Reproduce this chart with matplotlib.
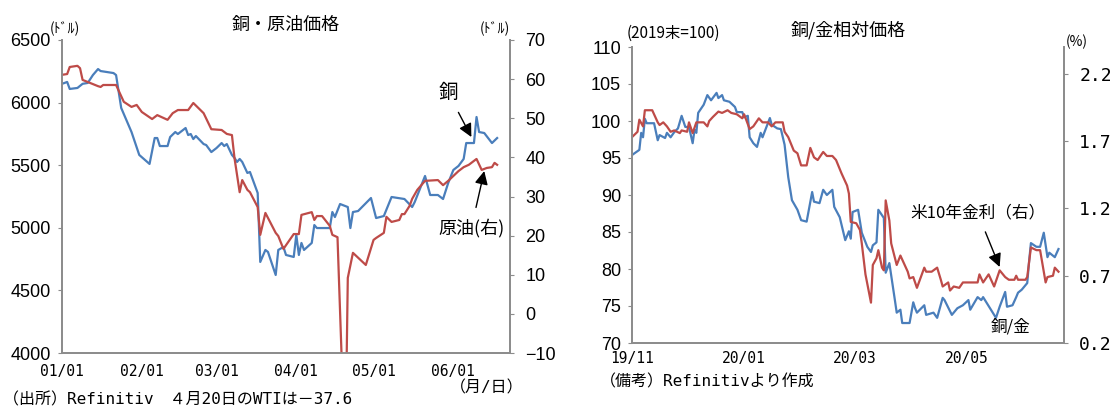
import matplotlib
matplotlib.use('Agg')
import matplotlib.pyplot as plt
import matplotlib.dates as mdates
import pandas as pd

plt.rcParams['font.family'] = ['Noto Sans CJK JP', 'DejaVu Sans']

# 左: 銅・原油価格 (2020)
copper_dates = ['01-01', '01-02', '01-03', '01-04', '01-07', '01-09', '01-11', '01-13', '01-15', '01-16',
                '01-21', '01-22', '01-24', '01-28', '01-31', '02-04', '02-06', '02-07', '02-08', '02-11',
                '02-12', '02-14', '02-15', '02-18', '02-19', '02-20', '02-21', '02-22', '02-25', '02-26',
                '02-28', '03-01', '03-03', '03-04', '03-05', '03-07', '03-08', '03-09', '03-10', '03-11',
                '03-13', '03-14', '03-17', '03-18', '03-20', '03-21', '03-24', '03-25', '03-27', '03-28',
                '03-31', '04-01', '04-02', '04-03', '04-04', '04-07', '04-08', '04-09', '04-14', '04-15',
                '04-16', '04-18', '04-21', '04-22', '04-23', '04-25', '04-30', '05-02', '05-05', '05-08',
                '05-13', '05-16', '05-17', '05-21', '05-23', '05-26', '05-28', '05-30', '06-01', '06-03',
                '06-05', '06-06', '06-09', '06-10', '06-11', '06-13', '06-16', '06-18']
copper = [6150, 6157, 6165, 6109, 6117, 6150, 6157, 6220, 6268, 6252,
          6236, 6220, 5957, 5765, 5582, 5510, 5717, 5717, 5653, 5653,
          5725, 5765, 5749, 5797, 5741, 5749, 5709, 5733, 5669, 5661,
          5605, 5637, 5677, 5653, 5669, 5582, 5558, 5526, 5550, 5526,
          5438, 5446, 5278, 4727, 4823, 4807, 4623, 4823, 4847, 4783,
          4767, 4943, 4783, 4879, 4823, 4879, 5022, 4998, 4998, 5126,
          5086, 5190, 5166, 4998, 5126, 5134, 5238, 5078, 5094, 5246,
          5230, 5166, 5206, 5414, 5262, 5262, 5230, 5358, 5462, 5494,
          5550, 5677, 5677, 5885, 5765, 5757, 5677, 5717]

oil_dates = ['01-01', '01-03', '01-04', '01-07', '01-08', '01-09', '01-12', '01-15', '01-16', '01-17',
             '01-22', '01-25', '01-28', '01-30', '02-01', '02-05', '02-07', '02-11', '02-13', '02-15',
             '02-19', '02-21', '02-25', '02-28', '03-03', '03-05', '03-07', '03-08', '03-10', '03-11',
             '03-13', '03-14', '03-17', '03-18', '03-20', '03-24', '03-25', '03-27', '03-31', '04-02',
             '04-03', '04-07', '04-08', '04-09', '04-11', '04-14', '04-15', '04-17', '04-20', '04-21',
             '04-23', '04-28', '05-01', '05-02', '05-05', '05-06', '05-08', '05-11', '05-12', '05-13',
             '05-15', '05-16', '05-18', '05-21', '05-26', '05-28', '05-30', '06-03', '06-05', '06-07',
             '06-10', '06-12', '06-14', '06-16', '06-17', '06-18']
oil = [61.1, 61.3, 63.1, 63.4, 62.8, 59.8, 59.0, 58.2, 58.0, 58.5,
       58.5, 54.2, 52.9, 53.4, 51.6, 49.8, 50.8, 49.6, 51.3, 52.1,
       52.1, 53.9, 51.3, 47.2, 47.0, 46.0, 45.7, 39.8, 31.1, 34.2,
       31.7, 31.1, 27.3, 20.2, 25.8, 20.7, 19.9, 16.6, 20.4, 20.4,
       25.3, 26.0, 24.0, 25.0, 25.0, 22.5, 20.2, 19.6, -37.6, 9.2,
       15.6, 12.5, 18.9, 19.4, 20.7, 24.8, 23.5, 24.0, 25.5, 25.5,
       27.6, 29.4, 31.7, 34.0, 34.2, 32.9, 34.0, 36.5, 37.5, 38.1,
       39.6, 36.8, 37.3, 37.5, 38.6, 38.1]

# 右: 銅/金相対価格, 米10年金利
ratio_dates = ['2019-11-01', '2019-11-05', '2019-11-06', '2019-11-07', '2019-11-08', '2019-11-09',
               '2019-11-13', '2019-11-15', '2019-11-16', '2019-11-19', '2019-11-20', '2019-11-22',
               '2019-11-24', '2019-11-26', '2019-11-28', '2019-11-30', '2019-12-02', '2019-12-04',
               '2019-12-05', '2019-12-06', '2019-12-07', '2019-12-10', '2019-12-12', '2019-12-14',
               '2019-12-17', '2019-12-18', '2019-12-20', '2019-12-21', '2019-12-24', '2019-12-27',
               '2019-12-28', '2019-12-31', '2020-01-01', '2020-01-03', '2020-01-04', '2020-01-06',
               '2020-01-08', '2020-01-10', '2020-01-11', '2020-01-15', '2020-01-16', '2020-01-19',
               '2020-01-21', '2020-01-23', '2020-01-25', '2020-01-27', '2020-01-30', '2020-02-01',
               '2020-02-04', '2020-02-07', '2020-02-08', '2020-02-11', '2020-02-13', '2020-02-15',
               '2020-02-18', '2020-02-19', '2020-02-22', '2020-02-25', '2020-02-27', '2020-02-28',
               '2020-02-29', '2020-03-03', '2020-03-05', '2020-03-08', '2020-03-10', '2020-03-11',
               '2020-03-13', '2020-03-14', '2020-03-17', '2020-03-18', '2020-03-20', '2020-03-23',
               '2020-03-24', '2020-03-26', '2020-03-27', '2020-03-31', '2020-04-02', '2020-04-03',
               '2020-04-04', '2020-04-08', '2020-04-09', '2020-04-13', '2020-04-15', '2020-04-18',
               '2020-04-19', '2020-04-23', '2020-04-26', '2020-04-29', '2020-05-02', '2020-05-03',
               '2020-05-07', '2020-05-09', '2020-05-10', '2020-05-17', '2020-05-19', '2020-05-22',
               '2020-05-23', '2020-05-26', '2020-05-28', '2020-05-29', '2020-05-31', '2020-06-03',
               '2020-06-04', '2020-06-05', '2020-06-08', '2020-06-10', '2020-06-12', '2020-06-14',
               '2020-06-15', '2020-06-18', '2020-06-20']
ratio = [95.4, 96.1, 98.4, 97.8, 100.3, 99.7,
         99.7, 97.4, 98.1, 97.7, 98.4, 97.8,
         98.5, 99.0, 100.7, 99.2, 99.2, 97.0,
         98.8, 98.4, 101.1, 102.2, 103.5, 102.8,
         103.8, 103.1, 103.5, 102.8, 102.6, 101.9,
         101.2, 101.2, 100.5, 100.7, 97.8, 97.0,
         96.5, 98.4, 97.8, 100.4, 99.5, 99.0,
         98.9, 96.8, 92.4, 89.3, 88.0, 86.6,
         86.4, 90.4, 89.1, 88.9, 90.7, 90.0,
         90.7, 88.4, 87.0, 83.9, 85.1, 84.1,
         87.7, 88.0, 84.9, 83.0, 82.3, 83.2,
         83.6, 88.0, 86.9, 79.5, 80.8, 75.8,
         74.1, 74.5, 72.7, 72.7, 75.5, 74.7,
         74.1, 75.1, 73.8, 74.1, 73.4, 76.1,
         75.8, 73.8, 74.7, 75.1, 75.8, 74.5,
         76.2, 75.8, 76.2, 73.4, 74.9, 76.9,
         74.9, 75.1, 76.2, 76.8, 77.2, 78.1,
         81.0, 83.5, 83.0, 83.0, 84.9, 81.6,
         82.2, 81.6, 82.7]

yield_dates = ['2019-11-01', '2019-11-04', '2019-11-05', '2019-11-07', '2019-11-08', '2019-11-12',
               '2019-11-13', '2019-11-15', '2019-11-16', '2019-11-18', '2019-11-20', '2019-11-22',
               '2019-11-24', '2019-11-27', '2019-11-28', '2019-12-01', '2019-12-02', '2019-12-04',
               '2019-12-06', '2019-12-10', '2019-12-12', '2019-12-13', '2019-12-15', '2019-12-18',
               '2019-12-20', '2019-12-23', '2019-12-25', '2019-12-28', '2019-12-31', '2020-01-01',
               '2020-01-04', '2020-01-06', '2020-01-09', '2020-01-11', '2020-01-14', '2020-01-16',
               '2020-01-18', '2020-01-22', '2020-01-23', '2020-01-25', '2020-01-28', '2020-01-30',
               '2020-02-01', '2020-02-04', '2020-02-06', '2020-02-08', '2020-02-10', '2020-02-13',
               '2020-02-15', '2020-02-18', '2020-02-20', '2020-02-23', '2020-02-26', '2020-02-27',
               '2020-02-28', '2020-03-02', '2020-03-04', '2020-03-05', '2020-03-07', '2020-03-10',
               '2020-03-11', '2020-03-13', '2020-03-14', '2020-03-16', '2020-03-17', '2020-03-18',
               '2020-03-20', '2020-03-21', '2020-03-24', '2020-03-26', '2020-03-30', '2020-03-31',
               '2020-04-02', '2020-04-04', '2020-04-08', '2020-04-09', '2020-04-12', '2020-04-15',
               '2020-04-17', '2020-04-18', '2020-04-21', '2020-04-22', '2020-04-24', '2020-04-27',
               '2020-04-29', '2020-05-03', '2020-05-07', '2020-05-08', '2020-05-10', '2020-05-13',
               '2020-05-16', '2020-05-19', '2020-05-22', '2020-05-24', '2020-05-27', '2020-05-28',
               '2020-05-29', '2020-06-02', '2020-06-03', '2020-06-05', '2020-06-08', '2020-06-10',
               '2020-06-13', '2020-06-14', '2020-06-17', '2020-06-18', '2020-06-20']
yield10 = [1.73, 1.77, 1.86, 1.81, 1.93, 1.93,
           1.90, 1.84, 1.82, 1.84, 1.81, 1.77,
           1.78, 1.76, 1.78, 1.77, 1.84, 1.76,
           1.84, 1.84, 1.81, 1.85, 1.88, 1.92,
           1.91, 1.93, 1.91, 1.90, 1.87, 1.90,
           1.79, 1.81, 1.87, 1.84, 1.84, 1.81,
           1.84, 1.84, 1.77, 1.73, 1.63, 1.61,
           1.52, 1.52, 1.65, 1.58, 1.56, 1.62,
           1.59, 1.59, 1.56, 1.46, 1.37, 1.31,
           1.10, 1.09, 1.04, 0.94, 0.71, 0.50,
           0.78, 0.83, 0.89, 0.76, 0.74, 1.26,
           1.11, 0.94, 0.78, 0.85, 0.73, 0.68,
           0.69, 0.61, 0.76, 0.73, 0.73, 0.76,
           0.67, 0.62, 0.65, 0.59, 0.62, 0.61,
           0.65, 0.65, 0.65, 0.71, 0.65, 0.71,
           0.62, 0.74, 0.69, 0.67, 0.67, 0.70,
           0.67, 0.67, 0.69, 0.91, 0.89, 0.89,
           0.65, 0.69, 0.70, 0.76, 0.73]

blue = '#4A7EBB'
red = '#BE4B48'
spine_c = '#8C8C8C'
mono_jp = ['DejaVu Sans Mono', 'Noto Sans CJK JP']
num_font = ['Liberation Sans', 'DejaVu Sans']
arrow = dict(arrowstyle='-|>', color='black', lw=1, mutation_scale=20, shrinkB=0)

fig = plt.figure(figsize=(11.1, 4.07), dpi=100)


def style(ax, ax2):
    for a in (ax, ax2):
        a.spines['top'].set_visible(False)
        for s in ('left', 'right', 'bottom'):
            a.spines[s].set_color(spine_c)
            a.spines[s].set_linewidth(1.3)
    ax.tick_params(axis='x', length=0, pad=8)
    ax.tick_params(axis='y', length=3, color=spine_c, pad=5)
    ax2.tick_params(axis='y', length=3, color=spine_c, pad=8)
    for lab in ax.get_xticklabels():
        lab.set_family('DejaVu Sans Mono')
        lab.set_fontsize(10.5)


# ---- 左のグラフ
ax1 = fig.add_axes([62 / 1110, 1 - 353 / 407, 448 / 1110, 313 / 407])
ax1b = ax1.twinx()
cd = pd.to_datetime(['2020-' + d for d in copper_dates])
od = pd.to_datetime(['2020-' + d for d in oil_dates])
ax1.plot(cd, copper, color=blue, lw=1.6)
ax1b.plot(od, oil, color=red, lw=1.6)
ax1.set_ylim(4000, 6500)
ax1.set_yticks(range(4000, 6501, 500))
ax1b.set_ylim(-10, 70)
ax1b.set_yticks(range(-10, 71, 10))
ax1.set_xlim(pd.Timestamp('2020-01-01'), pd.Timestamp('2020-06-23'))
ax1.xaxis.set_major_locator(mdates.MonthLocator())
ax1.xaxis.set_major_formatter(mdates.DateFormatter('%m/%d'))
style(ax1, ax1b)
for lab in ax1.get_yticklabels() + ax1b.get_yticklabels():
    lab.set_family(num_font)
    lab.set_fontsize(13)

ax1.set_title('銅・原油価格', fontsize=13, pad=7)
fig.text(65 / 1110, 1 - 29 / 407, '(ﾄﾞﾙ)', fontsize=10, ha='center', va='center')
fig.text(495 / 1110, 1 - 29 / 407, '(ﾄﾞﾙ)', fontsize=10, ha='center', va='center')

ax1.annotate('銅', xy=(pd.Timestamp('2020-06-08'), 5725), xytext=(pd.Timestamp('2020-05-30'), 6077),
             fontsize=14, ha='center', va='center', arrowprops=dict(arrow, shrinkA=5))
ax1b.annotate('原油(右)', xy=(pd.Timestamp('2020-06-13'), 36.5), xytext=(pd.Timestamp('2020-06-08'), 22),
              fontsize=13, ha='center', va='center', arrowprops=dict(arrow, shrinkA=6))

fig.text(487 / 1110, 1 - 388 / 407, '（月/日）', fontsize=11.5, ha='center', va='center', family=mono_jp)
fig.text(3 / 1110, 1 - 400 / 407, '（出所）Refinitiv　４月20日のWTIは－37.6', fontsize=11.5,
         ha='left', va='center', family=mono_jp)

# ---- 右のグラフ
ax2 = fig.add_axes([632 / 1110, 1 - 343 / 407, 432 / 1110, 296 / 407])
ax2b = ax2.twinx()
ax2.plot(pd.to_datetime(ratio_dates), ratio, color=blue, lw=1.6)
ax2b.plot(pd.to_datetime(yield_dates), yield10, color=red, lw=1.6)
ax2.set_ylim(70, 110)
ax2.set_yticks(range(70, 111, 5))
ax2b.set_ylim(0.2, 2.4)
ax2b.set_yticks([0.2, 0.7, 1.2, 1.7, 2.2])
ax2.set_xlim(pd.Timestamp('2019-11-01'), pd.Timestamp('2020-06-23'))
ax2.xaxis.set_major_locator(mdates.MonthLocator(bymonth=[1, 3, 5, 7, 9, 11]))
ax2.xaxis.set_major_formatter(mdates.DateFormatter('%y/%m'))
style(ax2, ax2b)
ax2.tick_params(axis='x', pad=6)
for lab in ax2.get_yticklabels():
    lab.set_family(num_font)
    lab.set_fontsize(13)
for lab in ax2b.get_yticklabels():
    lab.set_family('DejaVu Sans Mono')
    lab.set_fontsize(13)

ax2.set_title('銅/金相対価格', fontsize=13, pad=8)
fig.text(627 / 1110, 1 - 33 / 407, '(2019末=100)', fontsize=11, ha='left', va='center')
fig.text(1077 / 1110, 1 - 42 / 407, '(%)', fontsize=10, ha='center', va='center')

ax2b.annotate('米10年金利（右）', xy=(pd.Timestamp('2020-05-19'), 0.765),
              xytext=(pd.Timestamp('2020-05-07'), 1.167), fontsize=12, ha='center', va='center',
              arrowprops=dict(arrow, shrinkA=6))
ax2.text(pd.Timestamp('2020-05-25'), 72.2, '銅/金', fontsize=12, ha='center', va='center')

fig.text(600 / 1110, 1 - 382 / 407, '（備考）Refinitivより作成', fontsize=11.5, ha='left', va='center',
         family=mono_jp)

fig.savefig('out.png', dpi=100)
